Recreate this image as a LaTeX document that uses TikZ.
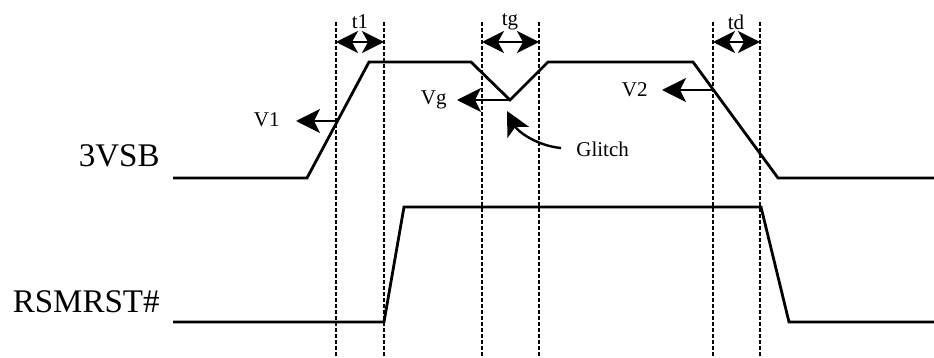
\documentclass[tikz,border=0pt]{standalone}
\usepackage{fontspec}
\setmainfont{Liberation Serif}
\usetikzlibrary{arrows.meta}
\begin{document}
\begin{tikzpicture}[x=0.5pt,y=-0.5pt,
  wave/.style={line width=1.4pt,line join=miter},
  guide/.style={line width=1.3pt,dash pattern=on 1.8pt off 1.2pt},
  level/.style={line width=1.2pt,-{Stealth[length=12pt,width=12pt,inset=3pt]}},
  span/.style={line width=1.2pt,{Stealth[length=11pt,width=11pt,inset=3pt]}-{Stealth[length=11pt,width=11pt,inset=3pt]}},
  small/.style={font=\fontsize{10.5}{12}\selectfont,inner sep=0pt},
  signame/.style={font=\fontsize{16.5}{18}\selectfont,anchor=base east,inner sep=0pt}]
\useasboundingbox (0,0) rectangle (934,358);
\foreach \x/\n in {336/a,384/b,482/c,539/d,713/e,760/f}{
  \coordinate (top\n) at (\x,42);
  \draw[guide] (\x,22) -- (\x,358);
}
\node[signame] (vsb) at (160,167) {3VSB};
\node[signame] (rsm) at (160,313) {RSMRST\#};
\draw[wave] (173,178) -- (307,178) -- (369,62) -- (471,62) -- (510,100) -- (548,62) -- (693,62) -- (778,178) -- (934,178);
\draw[wave] (173,322) -- (384,322) -- (404,207) -- (761,207) -- (789,322) -- (934,322);
\draw[span] (topa) -- (topb);
\draw[span] (topc) -- (topd);
\draw[span] (tope) -- (topf);
\node[small] (t1) at (360,22) {t1};
\node[small] (tg) at (510,22) {tg};
\node[small] (td) at (736,22) {td};
\coordinate (v1) at (337,121);
\coordinate (vg) at (510,100);
\coordinate (v2) at (712,90);
\node[small,anchor=east] (v1lab) at (280,120) {V1};
\node[small,anchor=east] (vglab) at (447,100) {Vg};
\node[small,anchor=east] (v2lab) at (648,90) {V2};
\draw[level] (v1) -- ([xshift=8]v1lab.east |- v1);
\draw[level] (vg) -- ([xshift=5]vglab.east |- vg);
\draw[level] (v2) -- ([xshift=7]v2lab.east |- v2);
\node[small,anchor=west] (glitch) at (576,149) {Glitch};
\coordinate (gtail) at (561,148);
\coordinate (gtip) at (507,111);
\draw[level] (gtail) .. controls (538,146) and (518,132) .. (gtip);
\end{tikzpicture}
\end{document}
